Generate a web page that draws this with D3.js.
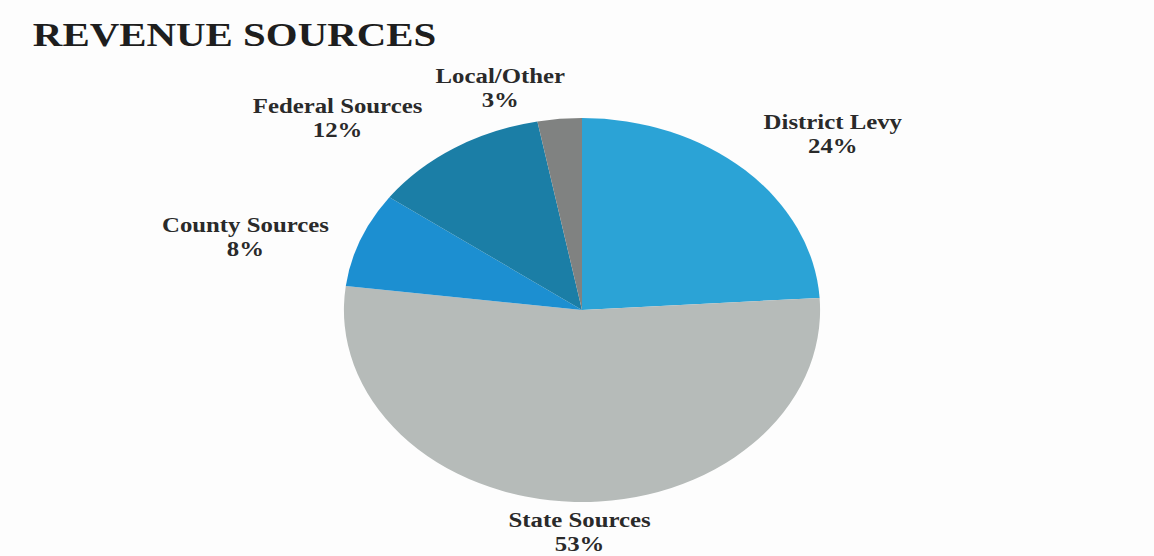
<!DOCTYPE html>
<html>
<head>
<meta charset="utf-8">
<script src="https://cdn.jsdelivr.net/npm/d3@7"></script>
<style>
  body { margin: 0; background: #fdfdfd; }
  svg { display: block; }
  text { font-family: 'Liberation Serif', 'Times New Roman', serif; font-weight: bold; fill: #2a2a2a; }
</style>
</head>
<body>
<svg id="chart" width="1154" height="556"></svg>
<script>
'use strict'

// chart data
var categories = ['District Levy', 'State Sources', 'County Sources', 'Federal Sources', 'Local/Other']
var shares = [24, 53, 8, 12, 3]
var colors = ['#2ba3d6', '#b6bbb9', '#1c8fd1', '#1b7ea6', '#808281']

// label placement around the pie: angle in degrees from 12 o'clock, radius in px
var labelAngle = { 'District Levy': 49, 'State Sources': 180.5, 'County Sources': 285, 'Federal Sources': 314.2, 'Local/Other': 343.5 }
var labelRadius = { 'District Levy': 268, 'State Sources': 222, 'County Sources': 281, 'Federal Sources': 275, 'Local/Other': 232 }

var sx = 1.24 // the scan is stretched horizontally
var radius = 192

var svg = d3.select('#chart')
var root = svg.append('g').attr('transform', 'scale(' + sx + ',1)')

root.append('text')
  .attr('x', 26.5)
  .attr('y', 46)
  .style('font-size', '33px')
  .style('fill', '#1e1e1e')
  .text('REVENUE SOURCES')

var data = categories.map((c, i) => ({ name: c, value: shares[i], color: colors[i] }))

var pie = d3.pie()
  .sort(null)
  .value((d) => d.value)

var arc = d3.arc()
  .innerRadius(0)
  .outerRadius(radius)

var g = root.append('g')
  .attr('transform', 'translate(' + (582 / sx) + ',310)')

g.selectAll('path')
  .data(pie(data))
  .enter().append('path')
    .attr('d', arc)
    .attr('fill', (d) => d.data.color)

var labels = g.selectAll('g.label')
  .data(pie(data))
  .enter().append('g')
    .attr('class', 'label')
    .attr('transform', (d) => {
      var a = labelAngle[d.data.name] * Math.PI / 180
      var r = labelRadius[d.data.name]
      return 'translate(' + (r * Math.sin(a)) + ',' + (-r * Math.cos(a)) + ')'
    })

labels.append('text')
  .attr('text-anchor', 'middle')
  .attr('y', -5)
  .style('font-size', '20px')
  .text((d) => d.data.name)

labels.append('text')
  .attr('text-anchor', 'middle')
  .attr('y', 19)
  .style('font-size', '20px')
  .text((d) => d.data.value + '%')
</script>
</body>
</html>
